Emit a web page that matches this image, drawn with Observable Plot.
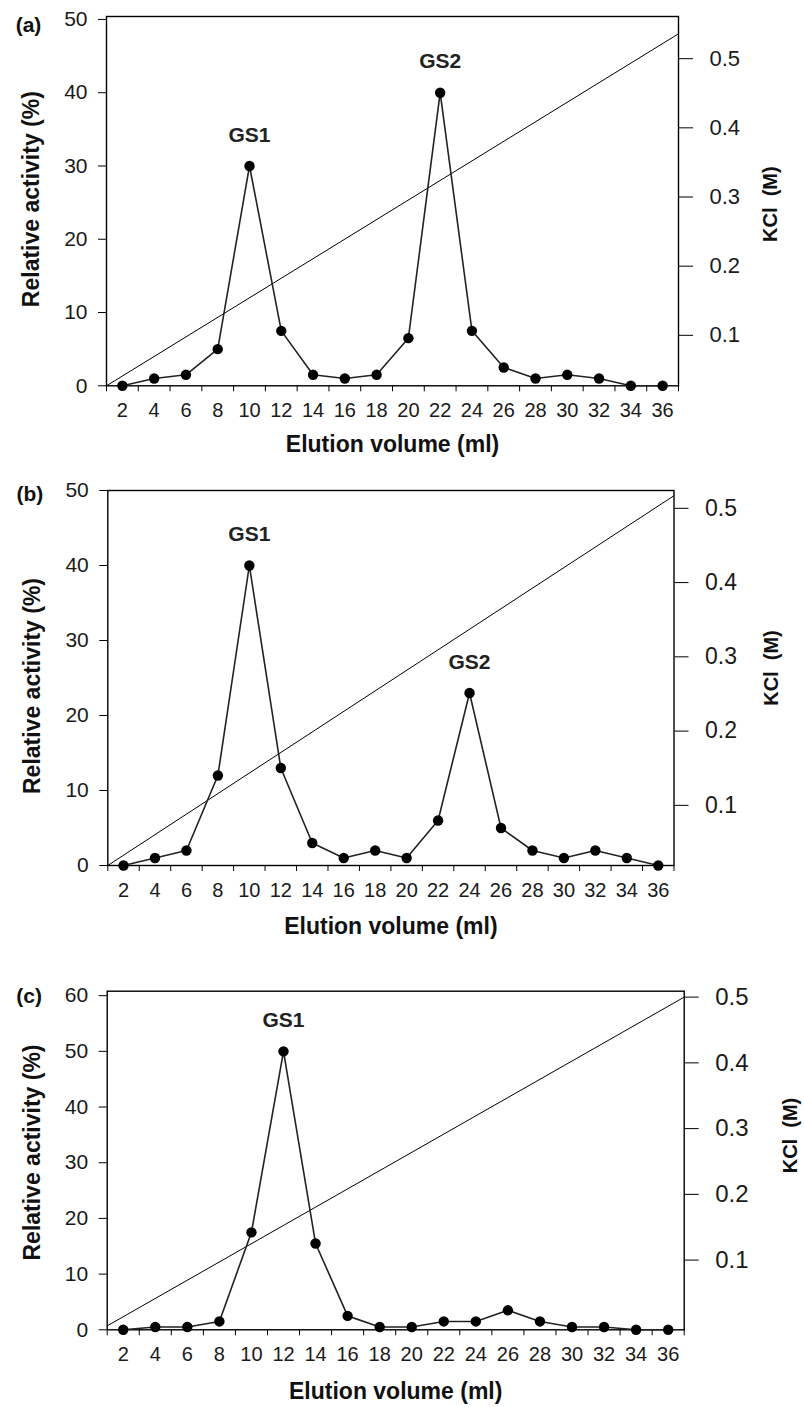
<!DOCTYPE html>
<html>
<head>
<meta charset="utf-8">
<script src="https://cdn.jsdelivr.net/npm/d3@7"></script>
<script src="https://cdn.jsdelivr.net/npm/@observablehq/plot@0.6"></script>
<style>
  body { margin: 0; background: #fff; }
  #chart { width: 804px; }
  #chart svg { display: block; }
</style>
</head>
<body>
<div id="chart"></div>
<script>
// Fractions collected along the elution (ml)
const volumes = [2, 4, 6, 8, 10, 12, 14, 16, 18, 20, 22, 24, 26, 28, 30, 32, 34, 36];

// Relative activity (%) of each fraction, one series per column run
const activityA = [0, 1, 1.5, 5, 30, 7.5, 1.5, 1, 1.5, 6.5, 40, 7.5, 2.5, 1, 1.5, 1, 0, 0];
const activityB = [0, 1, 2, 12, 40, 13, 3, 1, 2, 1, 6, 23, 5, 2, 1, 2, 1, 0];
const activityC = [0, 0.5, 0.5, 1.5, 17.5, 50, 15.5, 2.5, 0.5, 0.5, 1.5, 1.5, 3.5, 1.5, 0.5, 0.5, 0, 0];

// Peak names and the fraction they sit on
const peaksA = [{ v: 10, label: "GS1" }, { v: 22, label: "GS2" }];
const peaksB = [{ v: 10, label: "GS1" }, { v: 24, label: "GS2" }];
const peaksC = [{ v: 12, label: "GS1" }];

// Activity tick values
const activityTicks50 = [0, 10, 20, 30, 40, 50];
const activityTicks60 = [0, 10, 20, 30, 40, 50, 60];

// KCl axis: tick values, KCl at the bottom and top of each frame
const kclTicks = [0.1, 0.2, 0.3, 0.4, 0.5];
const kclSpanA = [0.027, 0.561];
const kclSpanB = [0.019, 0.524];
const kclSpanC = [-0.006, 0.509];

// Linear KCl gradient: [volume, KCl (M)] at start and end
const gradientA = [[1, 0.027], [37, 0.536]];
const gradientB = [[1, 0.019], [37, 0.517]];
const gradientC = [[1, 0.0], [37, 0.5]];

// Band edges between the labelled fractions carry the tick marks
const volumeEdges = d3.range(1, 38, 2);

const FONT = "'Liberation Sans', Arial, sans-serif";
const fmt = d3.format(".1f");

function panel({ tag, activity, peaks, yTop, yTicks, kclSpan, gradient, layout }) {
  const rows = volumes.map((v, i) => ({ v, a: activity[i] }));
  const toAct = d3.scaleLinear().domain(kclSpan).range([0, yTop]);
  const grad = gradient.map(([v, k]) => ({ v, a: toAct(k) }));
  const peakRows = peaks.map(p => ({ ...p, a: activity[volumes.indexOf(p.v)] }));

  return Plot.plot({
    width: 804,
    height: layout.height,
    marginTop: layout.top,
    marginBottom: layout.bottom,
    marginLeft: layout.left,
    marginRight: layout.right,
    style: { fontFamily: FONT, color: "#1a1a1a", background: "#fff", overflow: "visible" },
    x: { domain: [1, 37] },
    y: { domain: [0, yTop] },
    marks: [
      // x axis: labels at fraction centres, ticks at band edges
      Plot.axisX({ ticks: volumes, tickSize: 0, tickPadding: 17, fontSize: 20, tickFormat: d => d, label: null }),
      Plot.axisX({ ticks: volumeEdges, tickSize: 6, tickFormat: () => "", label: null, stroke: "#000" }),
      // left activity axis
      Plot.axisY({ ticks: yTicks, tickSize: 8, tickPadding: 11, fontSize: 21, label: null, stroke: "#000" }),
      // right KCl axis
      Plot.axisY({
        anchor: "right", ticks: kclTicks.map(k => toAct(k)),
        tickFormat: d => fmt(toAct.invert(d)),
        tickSize: 14, tickPadding: 17, fontSize: layout.kclFont, label: null, stroke: "#000"
      }),
      Plot.frame({ stroke: "#000", strokeWidth: 1.4 }),
      // KCl gradient
      Plot.line(grad, { x: "v", y: "a", stroke: "#000", strokeWidth: 1 }),
      // activity profile
      Plot.line(rows, { x: "v", y: "a", stroke: "#222", strokeWidth: 1.6 }),
      Plot.dot(rows, { x: "v", y: "a", r: 5.2, fill: "#000", stroke: "none" }),
      Plot.text(peakRows, {
        x: "v", y: "a", text: "label", dy: -31, fontSize: 21, fontWeight: "bold",
        fill: "#222", style: "letter-spacing:1.5px"
      }),
      // titles
      Plot.text(["Elution volume (ml)"], {
        frameAnchor: "bottom", dy: layout.xTitleDy, textAnchor: "middle", lineAnchor: "middle",
        fontSize: 23, fontWeight: "bold", fill: "#111"
      }),
      Plot.text(["Relative activity (%)"], {
        frameAnchor: "left", dx: -75, dy: layout.yTitleDy, rotate: -90, textAnchor: "middle", lineAnchor: "middle",
        fontSize: 23, fontWeight: "bold", fill: "#111"
      }),
      Plot.text(["KCl  (M)"], {
        frameAnchor: "right", dx: layout.kclDx, dy: layout.kclDy, rotate: -90, textAnchor: "middle", lineAnchor: "middle",
        fontSize: 20, fontWeight: "bold", fill: "#111"
      }),
      Plot.text([tag], {
        frameAnchor: "top-left", dx: -78, dy: layout.tagDy, textAnchor: "middle", lineAnchor: "middle",
        fontSize: 21, fontWeight: "bold", fill: "#111"
      })
    ]
  });
}

const chart = document.getElementById("chart");

chart.append(panel({
  tag: "(a)", activity: activityA, peaks: peaksA, yTop: 50.4, yTicks: activityTicks50,
  kclSpan: kclSpanA, gradient: gradientA,
  layout: { height: 470, top: 16, bottom: 84.7, left: 106, right: 126, xTitleDy: 59, yTitleDy: -2, kclDx: 92, kclDy: 3, tagDy: 9, kclFont: 22 }
}));

chart.append(panel({
  tag: "(b)", activity: activityB, peaks: peaksB, yTop: 50, yTicks: activityTicks50,
  kclSpan: kclSpanB, gradient: gradientB,
  layout: { height: 480, top: 20, bottom: 85, left: 107.3, right: 130.5, xTitleDy: 61, yTitleDy: 8, kclDx: 98, kclDy: -10, tagDy: 4, kclFont: 23 }
}));

chart.append(panel({
  tag: "(c)", activity: activityC, peaks: peaksC, yTop: 60.8, yTicks: activityTicks60,
  kclSpan: kclSpanC, gradient: gradientC,
  layout: { height: 457, top: 40.7, bottom: 77.7, left: 106.7, right: 120.3, xTitleDy: 62, yTitleDy: -8, kclDx: 106, kclDy: -25, tagDy: 5, kclFont: 24 }
}));
</script>
</body>
</html>
